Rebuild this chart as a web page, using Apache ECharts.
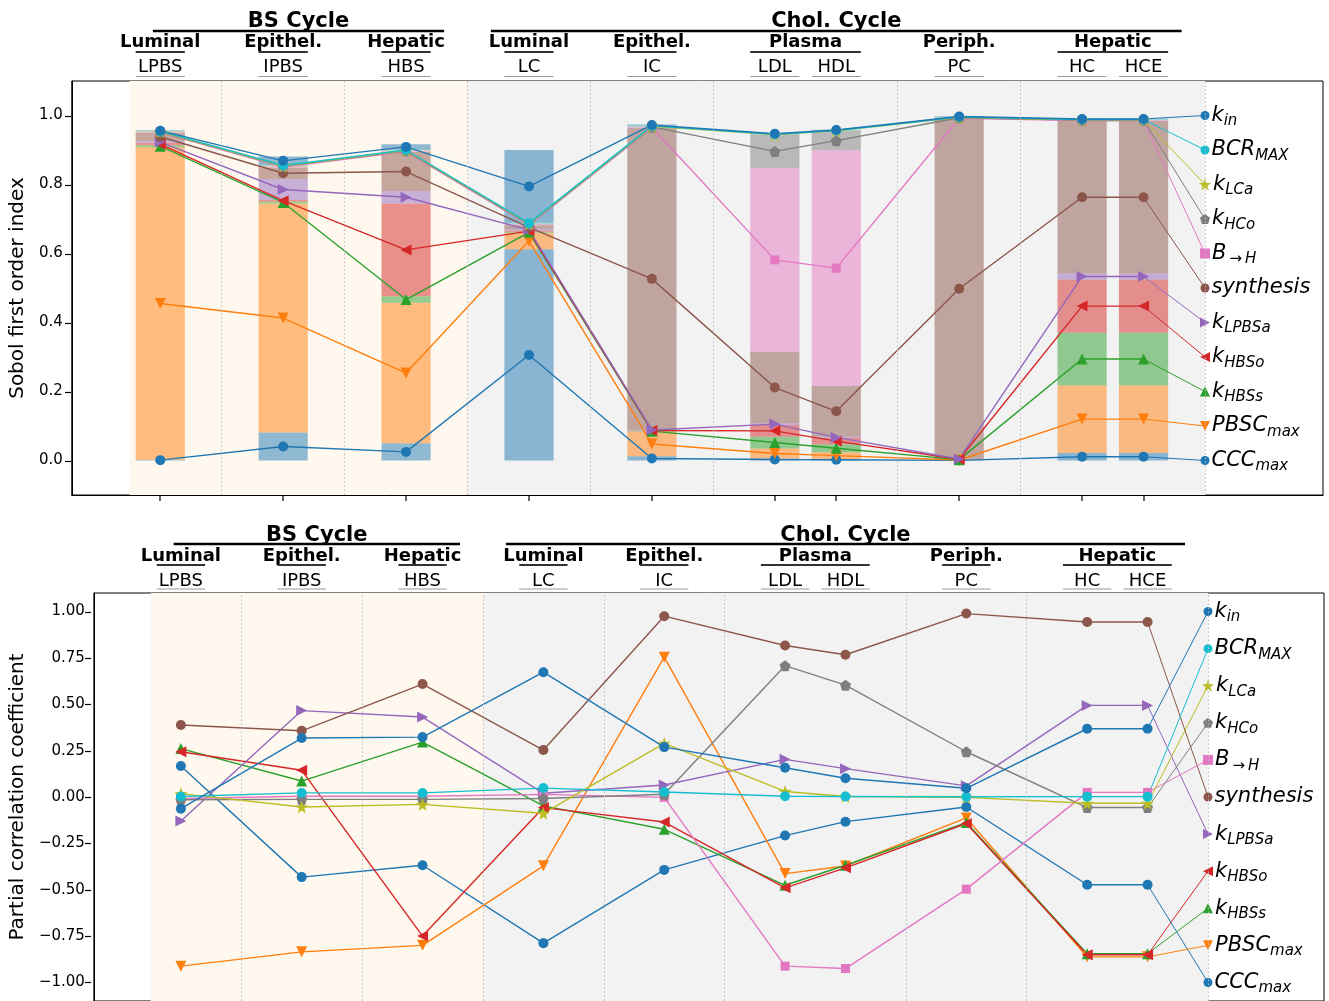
<!DOCTYPE html>
<html><head><meta charset="utf-8">
<script src="https://cdn.jsdelivr.net/npm/echarts@6/dist/echarts.min.js"></script>
<style>html,body{margin:0;padding:0;background:#fff}#c{width:1329px;height:1001px}</style>
</head><body><div id="c"></div>
<script>
// ---------------- DATA ----------------
const categories = ['LPBS','IPBS','HBS','LC','IC','LDL','HDL','PC','HC','HCE'];
const params = ['k_in','BCR_MAX','k_LCa','k_HCo','B_H','synthesis','k_LPBSa','k_HBSo','k_HBSs','PBSC_max','CCC_max'];

// Sobol first order indices (top panel), per category
const sobol_k_in      = [0.002,0.025,0.016,0.211,0.003,0.002,0.002,0.002,0.002,0.002];
const sobol_BCR_MAX   = [0.001,0.002,0.002,0.002,0.002,0.001,0.001,0.001,0.001,0.001];
const sobol_k_LCa     = [0.001,0.001,0.001,0.001,0.001,0.001,0.001,0.001,0.001,0.001];
const sobol_k_HCo     = [0.001,0.001,0.001,0.002,0.002,0.096,0.056,0.001,0.001,0.001];
const sobol_B_H       = [0.001,0.003,0.003,0.002,0.002,0.533,0.683,0.002,0.002,0.002];
const sobol_synthesis = [0.025,0.033,0.113,0.012,0.875,0.207,0.147,0.986,0.442,0.442];
const sobol_k_LPBSa   = [0.006,0.061,0.036,0.003,0.001,0.005,0.004,0.001,0.017,0.017];
const sobol_k_HBSo    = [0.006,0.004,0.269,0.004,0.002,0.034,0.018,0.001,0.155,0.155];
const sobol_k_HBSs    = [0.006,0.006,0.019,0.003,0.002,0.034,0.023,0.001,0.152,0.152];
const sobol_PBSC_max  = [0.906,0.664,0.407,0.048,0.072,0.029,0.020,0.001,0.196,0.196];
const sobol_CCC_max   = [0.002,0.081,0.050,0.612,0.012,0.006,0.004,0.001,0.022,0.022];

// Partial correlation coefficients (bottom panel), per category
const pcc_k_in      = [-0.063, 0.318, 0.323, 0.673, 0.269, 0.158, 0.101, 0.047, 0.368, 0.368];
const pcc_BCR_MAX   = [ 0.003, 0.022, 0.022, 0.048, 0.027, 0.004, 0.003, 0.001, 0.002, 0.002];
const pcc_k_LCa     = [ 0.018,-0.054,-0.040,-0.088, 0.289, 0.030, 0.003,-0.002,-0.034,-0.034];
const pcc_k_HCo     = [-0.015,-0.013,-0.013,-0.008, 0.015, 0.708, 0.603, 0.244,-0.057,-0.057];
const pcc_B_H       = [-0.008, 0.004, 0.004, 0.014,-0.002,-0.912,-0.925,-0.497, 0.025, 0.025];
const pcc_synthesis = [ 0.388, 0.357, 0.609, 0.253, 0.975, 0.817, 0.767, 0.989, 0.944, 0.944];
const pcc_k_LPBSa   = [-0.129, 0.466, 0.431, 0.020, 0.065, 0.203, 0.153, 0.060, 0.494, 0.494];
const pcc_k_HBSo    = [ 0.244, 0.144,-0.750,-0.057,-0.135,-0.490,-0.382,-0.143,-0.851,-0.851];
const pcc_k_HBSs    = [ 0.261, 0.086, 0.296,-0.048,-0.174,-0.476,-0.368,-0.138,-0.845,-0.845];
const pcc_PBSC_max  = [-0.912,-0.835,-0.800,-0.371, 0.754,-0.413,-0.372,-0.113,-0.862,-0.862];
const pcc_CCC_max   = [ 0.167,-0.432,-0.368,-0.788,-0.393,-0.208,-0.133,-0.054,-0.473,-0.473];

// legend anchor values (right side)
const legendTop    = [1.0,0.9,0.8,0.7,0.6,0.5,0.4,0.3,0.2,0.1,0.0];
const legendBottom = [1.0,0.8,0.6,0.4,0.2,0.0,-0.2,-0.4,-0.6,-0.8,-1.0];
const labelMain = ['k','BCR','k','k','B','synthesis','k','k','k','PBSC','CCC'];
const labelSub  = ['in','MAX','LCa','HCo','\u2009\u2192\u2009H','','LPBSa','HBSo','HBSs','max','max'];

const topTicks = [0,0.2,0.4,0.6,0.8,1.0];
const bottomTicks = [-1,-0.75,-0.5,-0.25,0,0.25,0.5,0.75,1];

const groups = [
  {label:'Luminal', cats:[0]}, {label:'Epithel.', cats:[1]}, {label:'Hepatic', cats:[2]},
  {label:'Luminal', cats:[3]}, {label:'Epithel.', cats:[4]}, {label:'Plasma', cats:[5,6]},
  {label:'Periph.', cats:[7]}, {label:'Hepatic', cats:[8,9]}
];
const cycles = [{label:'BS Cycle', from:0.44, to:2.81}, {label:'Chol. Cycle', from:3.19, to:8.81}];

// ---------------- LAYOUT / STYLE ----------------
const catX = [0.5,1.5,2.5,3.5,4.5,5.5,6.0,7.0,8.0,8.5];
const legendX = 9;
const BAR_W = 0.4;
const vlines = [1,2,3,4,5,6.5,7.5,9];
const XMIN = -0.22, XMAX = 9.96;
const colors = ['#1f77b4','#17becf','#bcbd22','#7f7f7f','#e377c2','#8c564b','#9467bd','#d62728','#2ca02c','#ff7f0e','#1f77b4'];
const STAR = 'path://M0,-10 L2.35,-3.24 L9.51,-3.09 L3.8,1.24 L5.88,8.09 L0,4 L-5.88,8.09 L-3.8,1.24 L-9.51,-3.09 L-2.35,-3.24 Z';
const PENT = 'path://M0,-10 L9.51,-3.09 L5.88,8.09 L-5.88,8.09 L-9.51,-3.09 Z';
const symbols = ['circle','circle',STAR,PENT,'rect','circle','triangle','triangle','triangle','triangle','circle'];
const symRot  = [0,0,0,0,0,0,-90,90,0,180,0];
const symSize = [10,10,13,11,9,10,11,11,11,11,10];
const legSize = [9,9,12,10,10,9,10,10,10,10,9];
const FONT = 'DejaVu Sans';

const sobol = [sobol_k_in,sobol_BCR_MAX,sobol_k_LCa,sobol_k_HCo,sobol_B_H,sobol_synthesis,sobol_k_LPBSa,sobol_k_HBSo,sobol_k_HBSs,sobol_PBSC_max,sobol_CCC_max];
const pcc = [pcc_k_in,pcc_BCR_MAX,pcc_k_LCa,pcc_k_HCo,pcc_B_H,pcc_synthesis,pcc_k_LPBSa,pcc_k_HBSo,pcc_k_HBSs,pcc_PBSC_max,pcc_CCC_max];

// stack bases and segment midpoints (CCC_max at bottom up to k_in)
const bases = params.map(() => []);
const mids = params.map(() => []);
for (let j = 0; j < categories.length; j++) {
  let cum = 0;
  for (let i = params.length - 1; i >= 0; i--) {
    bases[i][j] = cum;
    mids[i][j] = cum + sobol[i][j] / 2;
    cum += sobol[i][j];
  }
}

const rich = {
  m: {fontSize: 21, fontStyle: 'italic', fontFamily: FONT, color: '#000', lineHeight: 30},
  s: {fontSize: 15, fontStyle: 'italic', fontFamily: FONT, color: '#000', lineHeight: 15, padding: [12,0,0,0]}
};
function labelText(i) { return '{m|' + labelMain[i] + '}' + (labelSub[i] ? '{s|' + labelSub[i] + '}' : ''); }

const series = [];
function bgSeries(g) {
  return {
    type: 'line', xAxisIndex: g, yAxisIndex: g, data: [], z: 0, silent: true,
    markArea: {silent: true, data: [
      [{xAxis: 0.25, itemStyle: {color: '#fff8ee'}}, {xAxis: 3}],
      [{xAxis: 3, itemStyle: {color: '#f2f2f2'}}, {xAxis: 9}]
    ]},
    markLine: {silent: true, symbol: ['none','none'], label: {show: false},
      lineStyle: {type: [1.5,2.5], color: '#b8b8b8', width: 1},
      data: vlines.map(v => ({xAxis: v}))}
  };
}
series.push(bgSeries(0), bgSeries(1));

// stacked bar segments (custom rects through the axis scales)
for (let i = params.length - 1; i >= 0; i--) {
  const col = colors[i];
  series.push({
    type: 'custom', name: params[i] + '_bar', xAxisIndex: 0, yAxisIndex: 0, z: 2,
    encode: {x: 0, y: [1, 2]},
    data: catX.map((x, j) => [x, bases[i][j], bases[i][j] + sobol[i][j]]),
    renderItem: function (p, api) {
      const x = api.value(0);
      const a = api.coord([x, api.value(1)]);
      const b = api.coord([x, api.value(2)]);
      const w = api.size([BAR_W, 0])[0];
      return {type: 'rect', shape: {x: a[0] - w / 2, y: b[1], width: w, height: a[1] - b[1]},
        style: {fill: col, opacity: 0.5}};
    }
  });
}

function lineSeries(g, i, vals, anchor) {
  const base = {
    type: 'line', xAxisIndex: g, yAxisIndex: g, z: 3,
    symbol: symbols[i], symbolRotate: symRot[i], symbolSize: symSize[i],
    itemStyle: {color: colors[i]}, lineStyle: {color: colors[i], width: 1.4}
  };
  series.push(Object.assign({}, base, {
    name: params[i] + '_' + g,
    data: catX.map((x, j) => [x, vals[j]])
  }));
  series.push(Object.assign({}, base, {
    name: params[i] + '_leg_' + g,
    lineStyle: {color: colors[i], width: 1},
    symbolSize: legSize[i],
    data: [
      {value: [catX[catX.length - 1], vals[vals.length - 1]], symbol: 'none'},
      {value: [legendX, anchor], label: {show: true, position: 'right', distance: 2, formatter: labelText(i), rich: rich}}
    ]
  }));
}
for (let i = params.length - 1; i >= 0; i--) {
  lineSeries(0, i, mids[i], legendTop[i]);
  lineSeries(1, i, pcc[i], legendBottom[i]);
}

const xAxisBase = {
  type: 'value', min: XMIN, max: XMAX, position: 'bottom',
  axisLine: {show: true, onZero: false, lineStyle: {color: '#000', width: 1}}, splitLine: {show: false},
  axisLabel: {show: false},
  axisTick: {show: false}
};
function yAxisBase(min, max, ticks, dec, name, gap) {
  return {
    type: 'value', min: min, max: max, position: 'left',
    name: name, nameLocation: 'middle', nameGap: gap,
    nameTextStyle: {fontSize: 20, fontFamily: FONT, color: '#000'},
    axisLine: {show: true, onZero: false, lineStyle: {color: '#000', width: 1}}, splitLine: {show: false},
    axisTick: {show: false},
    axisLabel: {show: true, customValues: ticks, fontSize: 15, fontFamily: FONT, color: '#000', margin: 9,
      formatter: v => v.toFixed(dec).replace('-', '\u2212')}
  };
}

const option = {
  animation: false,
  backgroundColor: '#fff',
  grid: [
    {left: 71, right: 6, top: 81, height: 414, show: true, borderColor: '#000', borderWidth: 1, backgroundColor: 'transparent'},
    {left: 91, right: 5, top: 593, height: 409, show: true, borderColor: '#000', borderWidth: 1, backgroundColor: 'transparent'}
  ],
  xAxis: [Object.assign({gridIndex: 0}, xAxisBase), Object.assign({gridIndex: 1}, xAxisBase)],
  yAxis: [
    Object.assign({gridIndex: 0}, yAxisBase(-0.1, 1.1, topTicks, 1, 'Sobol first order index', 35)),
    Object.assign({gridIndex: 1}, yAxisBase(-1.1, 1.1, bottomTicks, 2, 'Partial correlation coefficient', 57))
  ],
  series: series
};

const chart = echarts.init(document.getElementById('c'), null, {renderer: 'canvas'});
chart.setOption(option);

// header annotations and axis ticks
const graphics = [];
const yTickSets = [topTicks, bottomTicks];
const yMins = [-0.1, -1.1];
const gridLeft = [71, 91];
[0, 1].forEach(g => {
  const px = x => chart.convertToPixel({gridIndex: g}, [x, 0])[0];
  const py = y => chart.convertToPixel({gridIndex: g}, [0, y])[1];
  const top = py(1.1);
  const bottom = py(yMins[g]);
  const left = gridLeft[g];
  // y ticks (outward)
  yTickSets[g].forEach(t => {
    const y = Math.round(py(t)) + 0.5;
    graphics.push({type: 'rect', z: 100, shape: {x: left - 6, y: y - 0.6, width: 6, height: 1.2}, style: {fill: '#000'}});
  });
  // x ticks (outward, below the frame)
  catX.forEach(x => {
    const xx = Math.round(px(x));
    graphics.push({type: 'rect', z: 100, shape: {x: xx - 0.6, y: bottom, width: 1.2, height: 6}, style: {fill: '#000'}});
  });
  const off = g === 0 ? {ct: -59, cl: -50, gt: -38.5, gl: -29, kt: -13.5, kl: -4.5}
                      : {ct: -57, cl: -49, gt: -37, gl: -28, kt: -12, kl: -4};
  cycles.forEach(c => {
    graphics.push({type: 'text', x: px((c.from + c.to) / 2), y: top + off.ct, z: 10,
      style: {text: c.label, fontSize: 21, fontWeight: 'bold', fontFamily: FONT, fill: '#000', align: 'center', verticalAlign: 'middle'}});
    graphics.push({type: 'line', z: 10, shape: {x1: px(c.from), y1: top + off.cl, x2: px(c.to), y2: top + off.cl},
      style: {stroke: '#000', lineWidth: 2.5}});
  });
  groups.forEach(gr => {
    const xs = gr.cats.map(k => catX[k]);
    const a = Math.min(...xs), b = Math.max(...xs);
    graphics.push({type: 'text', x: px((a + b) / 2), y: top + off.gt, z: 10,
      style: {text: gr.label, fontSize: 18, fontWeight: 'bold', fontFamily: FONT, fill: '#000', align: 'center', verticalAlign: 'middle'}});
    graphics.push({type: 'line', z: 10, shape: {x1: px(a - BAR_W / 2), y1: top + off.gl, x2: px(b + BAR_W / 2), y2: top + off.gl},
      style: {stroke: '#333', lineWidth: 2}});
  });
  categories.forEach((cName, k) => {
    graphics.push({type: 'text', x: px(catX[k]), y: top + off.kt, z: 10,
      style: {text: cName, fontSize: 18, fontFamily: FONT, fill: '#000', align: 'center', verticalAlign: 'middle'}});
    graphics.push({type: 'line', z: 10, shape: {x1: px(catX[k] - BAR_W / 2), y1: top + off.kl, x2: px(catX[k] + BAR_W / 2), y2: top + off.kl},
      style: {stroke: '#999', lineWidth: 1.2}});
  });
});
chart.setOption({graphic: {elements: graphics}});
</script>
</body></html>
